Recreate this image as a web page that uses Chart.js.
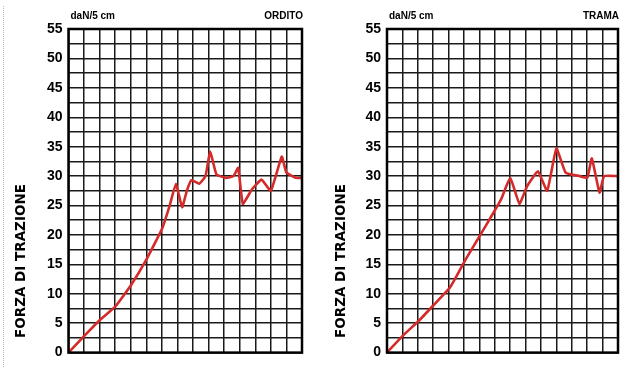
<!DOCTYPE html>
<html>
<head>
<meta charset="utf-8">
<script src="https://cdn.jsdelivr.net/npm/chart.js@4.4.0/dist/chart.umd.min.js"></script>
<style>
  body { margin: 0; background: #fff; width: 627px; height: 367px; overflow: hidden; position: relative; }
  .box { position: absolute; top: 0; height: 367px; }
  #boxA { left: 0; width: 313px; }
  #boxB { left: 313px; width: 314px; }
  .edge { position: absolute; left: 3px; top: 6px; bottom: 0; border-left: 1px dotted #b8b8b8; }
</style>
</head>
<body>
<div class="edge"></div>
<div class="box" id="boxA"><canvas id="ordito"></canvas></div>
<div class="box" id="boxB"><canvas id="trama"></canvas></div>
<script>
// tick labels on the force axis (daN/5 cm)
const tickLabels = ["0", "5", "10", "15", "20", "25", "30", "35", "40", "45", "50", "55"];
const unitLabel = "daN/5 cm";
const axisTitle = "FORZA DI TRAZIONE";

// ORDITO curve (x in grid squares, y in daN/5 cm)
const ordX = [0, 1, 2, 3, 4, 5, 6, 6.5, 6.9, 7.3, 7.6, 7.9, 8.4, 8.8, 9.1, 9.5, 10.1, 10.6, 10.9, 11.2, 11.8, 12.4, 13.0, 13.7, 14.0, 14.6, 15];
const ordY = [0, 2.8, 5.5, 7.8, 11.4, 15.8, 21, 25, 28.7, 24.7, 27.5, 29.3, 28.7, 30, 34.2, 30.3, 29.7, 30, 31.4, 25.3, 27.8, 29.4, 27.5, 33.3, 30.6, 29.7, 29.7];

// TRAMA curve
const traX = [0, 1, 2.1, 3, 4.1, 5.1, 6.4, 7.4, 8.0, 8.6, 9.1, 9.8, 10.4, 11.0, 11.6, 12.5, 13.0, 13.3, 13.8, 14.1, 15];
const traY = [0, 2.8, 5.5, 8, 11.1, 15.8, 21.5, 26, 29.7, 25.3, 28.3, 30.8, 27.5, 34.7, 30.6, 30, 29.7, 33, 27.2, 30, 30];

const font = '"Liberation Sans", Arial, sans-serif';

const frame = {
  id: 'frame',
  afterDraw(chart, args, o) {
    const { ctx, chartArea: a } = chart;
    ctx.save();
    ctx.lineWidth = 2.5;
    ctx.strokeStyle = '#000';
    ctx.strokeRect(a.left, a.top, a.right - a.left, a.bottom - a.top);
    ctx.fillStyle = '#000';
    ctx.textBaseline = 'middle';
    ctx.font = 'bold 10px ' + font;
    ctx.textAlign = 'left';
    ctx.fillText(unitLabel, a.left + 2, 16);
    ctx.textAlign = 'right';
    ctx.fillText(o.name, a.right + 1, 16);
    ctx.translate(o.titleX, 261);
    ctx.rotate(-Math.PI / 2);
    ctx.font = 'bold 13.5px "DejaVu Sans", sans-serif';
    ctx.textAlign = 'center';
    ctx.fillText(axisTitle, 0, 0);
    ctx.restore();
  }
};

function makeChart(id, xs, ys, name, axisW, padR, titleX) {
  const pts = xs.map((x, i) => ({ x: x, y: ys[i] }));
  return new Chart(document.getElementById(id), {
    type: 'line',
    data: {
      datasets: [{
        data: pts,
        borderColor: '#d42a2a',
        borderWidth: 2.6,
        pointRadius: 0,
        tension: 0.12,
        fill: false,
      }],
    },
    options: {
      responsive: true,
      maintainAspectRatio: false,
      animation: false,
      layout: { padding: { left: 0, right: padR, top: 29, bottom: 8 } },
      scales: {
        x: {
          type: 'linear',
          min: 0,
          max: 15,
          ticks: { display: false, stepSize: 1 },
          grid: { color: '#1a1a1a', lineWidth: 1.5, drawTicks: false },
          border: { display: false },
          afterFit: (s) => { s.height = 0; },
        },
        y: {
          min: 0,
          max: 55,
          ticks: {
            stepSize: 2.5,
            autoSkip: false,
            padding: 6,
            color: '#000',
            font: { family: font, size: 14, weight: 'bold' },
            callback: (v) => (v % 5 === 0 ? tickLabels[v / 5] : ''),
          },
          grid: { color: '#1a1a1a', lineWidth: 1.5, drawTicks: false },
          border: { display: false },
          afterFit: (s) => { s.width = axisW; },
        },
      },
      plugins: {
        legend: { display: false },
        tooltip: { enabled: false },
        frame: { name: name, titleX: titleX },
      },
    },
    plugins: [frame],
  });
}

makeChart('ordito', ordX, ordY, 'ORDITO', 68.5, 11, 21);
makeChart('trama', traX, traY, 'TRAMA', 74, 9, 28);
</script>
</body>
</html>
